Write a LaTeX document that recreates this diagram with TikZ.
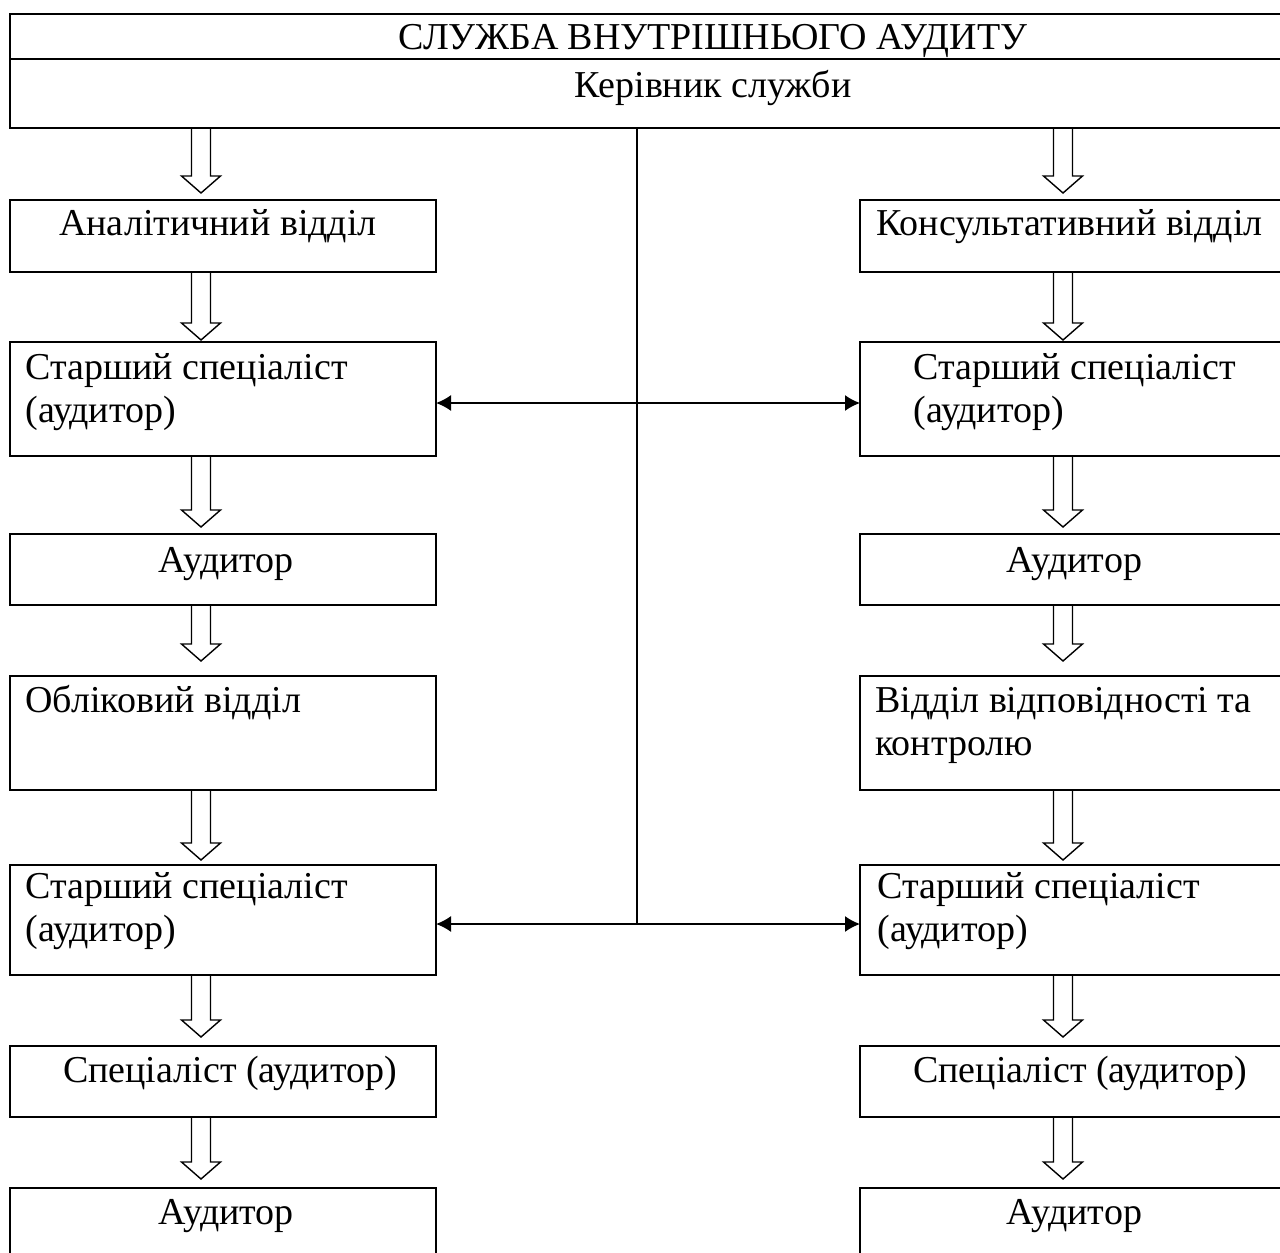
\documentclass[tikz,border=0pt]{standalone}
\usepackage{fontspec}
\setmainfont{Liberation Serif}
\usepackage{tikz}
\usetikzlibrary{arrows.meta}
\usetikzlibrary{calc}

\tikzset{
  unitbox/.style={draw, line width=1pt, anchor=north west, inner sep=0pt, outer sep=0pt, minimum width=213pt},
  unitname/.style={inner sep=0pt, anchor=base west},
  unitnamec/.style={inner sep=0pt, anchor=base},
  blockline/.style={line width=0.7pt},
  linkline/.style={line width=0.8pt, arrows={Latex[length=7.5pt,width=8pt]-Latex[length=7.5pt,width=8pt]}},
}
\newcommand{\downblock}[4]{
  \path (#1 |- #2.south) coordinate (tl) (#1 |- #3.north) ++(0,-#4) coordinate (tp);
  \draw[blockline] ($(tl)+(-9.5,0)$) -- ($(tp)+(-9.5,-17)$) -- ($(tp)+(-19.5,-17)$) -- (tp)
    -- ($(tp)+(19.5,-17)$) -- ($(tp)+(9.5,-17)$) -- ($(tl)+(9.5,0)$) -- cycle;
}

\begin{document}
\begin{tikzpicture}[x=0.5pt, y=-0.5pt, font=\fontsize{19}{21.5}\selectfont]
\useasboundingbox (0,0) rectangle (1280,1253);
\clip (0,0) rectangle (1280,1253);
\coordinate (lcol) at (201,0);
\coordinate (rcol) at (1063,0);
\coordinate (hub) at (637,0);
\node[unitbox, minimum width=703pt, minimum height=22.5pt] (service) at (10,14) {};
\node[unitbox, minimum width=703pt, minimum height=34.5pt] (head) at (service.south west) {};
\node[unitnamec] (serviceT) at (713,49) {СЛУЖБА ВНУТРІШНЬОГО АУДИТУ};
\node[unitnamec] (headT) at (713,97) {Керівник служби};
\node[unitbox, minimum height=36pt] (l1) at (10,200) {};
\node[unitnamec] (l1T) at (218,235) {Аналітичний відділ};
\node[unitbox, minimum height=57pt] (l2) at (10,342) {};
\node[unitname, align=left] (l2T) at (25,422) {Старший спеціаліст\\(аудитор)};
\node[unitbox, minimum height=35.5pt] (l3) at (10,534) {};
\node[unitnamec] (l3T) at (226,572) {Аудитор};
\node[unitbox, minimum height=57pt] (l4) at (10,676) {};
\node[unitname] (l4T) at (25,712) {Обліковий відділ};
\node[unitbox, minimum height=55pt] (l5) at (10,865) {};
\node[unitname, align=left] (l5T) at (25,941) {Старший спеціаліст\\(аудитор)};
\node[unitbox, minimum height=35.5pt] (l6) at (10,1046) {};
\node[unitnamec] (l6T) at (230,1082) {Спеціаліст (аудитор)};
\node[unitbox, minimum height=50pt] (l7) at (10,1188) {};
\node[unitnamec] (l7T) at (226,1224) {Аудитор};
\node[unitbox, minimum height=36pt] (r1) at (860,200) {};
\node[unitname] (r1T) at (876,235) {Консультативний відділ};
\node[unitbox, minimum height=57pt] (r2) at (860,342) {};
\node[unitname, align=left] (r2T) at (913,422) {Старший спеціаліст\\(аудитор)};
\node[unitbox, minimum height=35.5pt] (r3) at (860,534) {};
\node[unitnamec] (r3T) at (1074,572) {Аудитор};
\node[unitbox, minimum height=57pt] (r4) at (860,676) {};
\node[unitname, align=left] (r4T) at (875,755) {Відділ відповідності та\\контролю};
\node[unitbox, minimum height=55pt] (r5) at (860,865) {};
\node[unitname, align=left] (r5T) at (877,941) {Старший спеціаліст\\(аудитор)};
\node[unitbox, minimum height=35.5pt] (r6) at (860,1046) {};
\node[unitnamec] (r6T) at (1080,1082) {Спеціаліст (аудитор)};
\node[unitbox, minimum height=50pt] (r7) at (860,1188) {};
\node[unitnamec] (r7T) at (1074,1224) {Аудитор};
\downblock{lcol}{head}{l1}{7}
\downblock{lcol}{l1}{l2}{2}
\downblock{lcol}{l2}{l3}{7}
\downblock{lcol}{l3}{l4}{15}
\downblock{lcol}{l4}{l5}{5}
\downblock{lcol}{l5}{l6}{9}
\downblock{lcol}{l6}{l7}{9}
\downblock{rcol}{head}{r1}{7}
\downblock{rcol}{r1}{r2}{2}
\downblock{rcol}{r2}{r3}{7}
\downblock{rcol}{r3}{r4}{15}
\downblock{rcol}{r4}{r5}{5}
\downblock{rcol}{r5}{r6}{9}
\downblock{rcol}{r6}{r7}{9}
\draw[line width=0.6pt] (head.south -| hub) -- ([yshift=-2pt]hub |- l5.east);
\draw[linkline] ([yshift=-2pt]l2.east) -- ([yshift=-2pt]r2.west);
\draw[linkline] ([yshift=-2pt]l5.east) -- ([yshift=-2pt]r5.west);
\end{tikzpicture}
\end{document}
